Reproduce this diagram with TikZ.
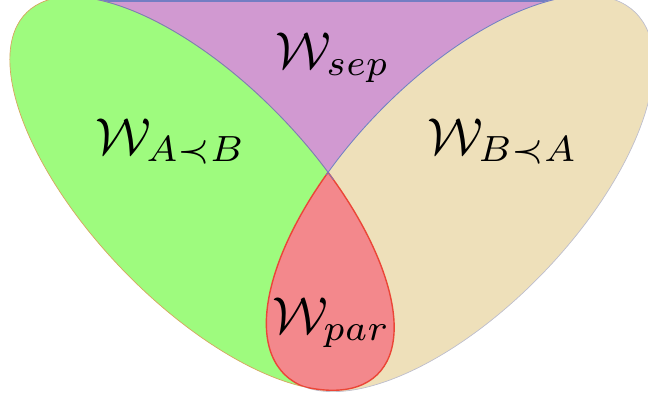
\documentclass[tikz,border=0pt]{standalone}
\usepackage{amsmath,amssymb}
\definecolor{wgreen}{RGB}{158,251,126}
\definecolor{wbeige}{RGB}{238,224,186}
\definecolor{wpurple}{RGB}{209,153,209}
\definecolor{wred}{RGB}{243,136,140}
\definecolor{wblue}{RGB}{115,125,195}
\definecolor{worange}{RGB}{215,165,95}
\definecolor{wgray}{RGB}{190,190,205}
\definecolor{wredline}{RGB}{235,70,55}
\begin{document}
\begin{tikzpicture}[x=1pt,y=-1pt,
  lrot/.style={rotate around={-46:(202,193.5)}},
  rrot/.style={rotate around={46:(460,193.5)}},
  lbl/.style={inner sep=0pt,anchor=base west,scale=5.2}]
\useasboundingbox (0,0) rectangle (648,397);
\clip (0,0) rectangle (648,397);
% purple region
\fill[wpurple] (60,-5) -- (600,-5) -- (333,205) -- cycle;
\draw[wblue,line width=1.5pt] (60,0.75) -- (600,0.75);
% ellipses
\fill[wgreen,draw=worange,line width=0.7pt,lrot] (202,193.5) ellipse [x radius=252,y radius=110];
\fill[wbeige,draw=wgray,line width=0.7pt,rrot] (460,193.5) ellipse [x radius=252,y radius=115];
% intersection
\begin{scope}
  \clip[lrot] (202,193.5) ellipse [x radius=252,y radius=110];
  \fill[wred,draw=wredline,line width=1.4pt,rrot] (460,193.5) ellipse [x radius=252,y radius=115];
\end{scope}
\begin{scope}
  \clip[rrot] (460,193.5) ellipse [x radius=252,y radius=115];
  \draw[wredline,line width=1.4pt,lrot] (202,193.5) ellipse [x radius=252,y radius=110];
\end{scope}
% blue upper arcs
\begin{scope}
  \clip (60,-5) -- (600,-5) -- (333,180) -- cycle;
  \draw[wblue,line width=0.8pt,lrot] (202,193.5) ellipse [x radius=252,y radius=110];
  \draw[wblue,line width=0.8pt,rrot] (460,193.5) ellipse [x radius=252,y radius=115];
\end{scope}
% labels
\node[lbl] (sep) at (274,68) {$\mathcal{W}_{sep}$};
\node[lbl] (ab) at (94,154) {$\mathcal{W}_{A\prec B}$};
\node[lbl] (ba) at (426,154) {$\mathcal{W}_{B\prec A}$};
\node[lbl] (par) at (271,333) {$\mathcal{W}_{par}$};
\end{tikzpicture}
\end{document}
